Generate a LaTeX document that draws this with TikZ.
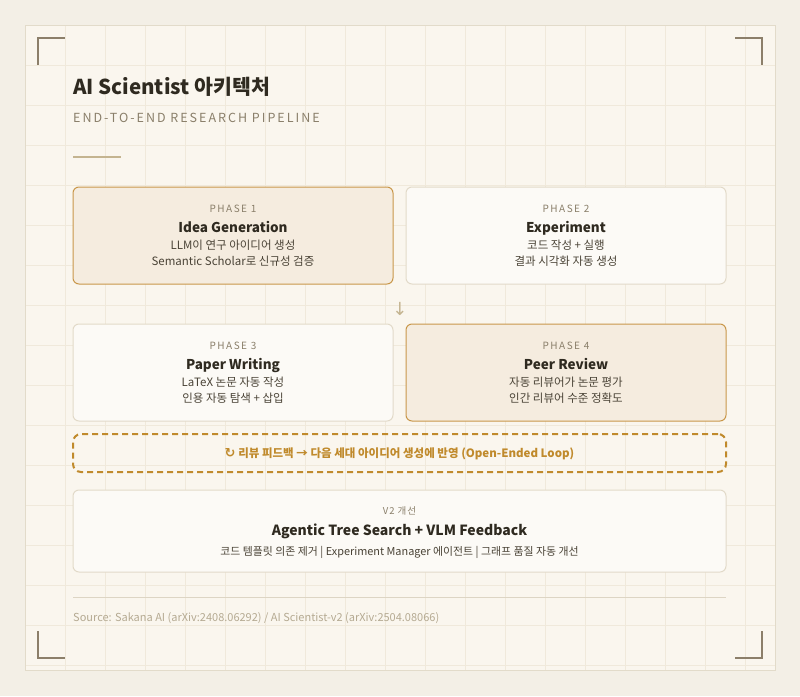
\documentclass[tikz,border=0pt]{standalone}
\usepackage{fontspec}
\setmainfont{Noto Sans CJK KR}
\newfontfamily\symfont{DejaVu Sans}
\usepackage{tikz}
\usetikzlibrary{positioning}

\definecolor{pagebg}{HTML}{F3EFE6}
\definecolor{panelbg}{HTML}{FAF6EE}
\definecolor{panelline}{HTML}{E2DBCA}
\definecolor{gridline}{HTML}{F0E9DB}
\definecolor{bracket}{HTML}{8C7F6A}
\definecolor{ink}{HTML}{2F2A20}
\definecolor{muted}{HTML}{8A7F6A}
\definecolor{rule}{HTML}{C4B490}
\definecolor{gold}{HTML}{C9974A}
\definecolor{hifill}{HTML}{F5ECDF}
\definecolor{lofill}{HTML}{FCFAF6}
\definecolor{loline}{HTML}{E2DAC9}
\definecolor{desc}{HTML}{4A4336}
\definecolor{loop}{HTML}{C08A2C}
\definecolor{footline}{HTML}{DDD5C4}
\definecolor{source}{HTML}{B5AA92}

\tikzset{
  hibox/.style={draw=gold, fill=hifill, rounded corners=6pt, line width=1pt,
    minimum width=320pt, minimum height=97pt, inner sep=0pt},
  lobox/.style={draw=loline, fill=lofill, rounded corners=6pt, line width=1pt,
    minimum width=320pt, minimum height=97pt, inner sep=0pt},
  caption/.style={anchor=base, text=muted, inner sep=0pt,
    font=\fontsize{10}{11}\selectfont\addfontfeatures{LetterSpace=15}},
  heading/.style={anchor=base, text=ink, inner sep=0pt,
    font=\fontsize{13.5}{16}\selectfont\bfseries},
  body/.style={anchor=base, text=desc, inner sep=0pt,
    font=\fontsize{11.5}{13}\selectfont},
  corner/.style={draw=bracket, line width=2pt}
}

\begin{document}
\begin{tikzpicture}[x=1pt,y=-1pt]
  \useasboundingbox (0,0) rectangle (800,696);
  \fill[pagebg] (0,0) rectangle (800,696);
  \fill[panelbg] (25,25) rectangle (775,670);
  \begin{scope}
    \clip (25,25) rectangle (775,670);
    \foreach \gx in {65,105,...,765} \draw[gridline] (\gx,25) -- (\gx,670);
    \foreach \gy in {65,105,...,665} \draw[gridline] (25,\gy) -- (775,\gy);
  \end{scope}
  \draw[panelline] (25,25) rectangle (775,670);

  % corner brackets
  \draw[corner] (38,65) -- (38,38) -- (65,38);
  \draw[corner] (735,38) -- (762,38) -- (762,65);
  \draw[corner] (38,631) -- (38,658) -- (65,658);
  \draw[corner] (735,658) -- (762,658) -- (762,631);

  % header
  \node[anchor=base west, text=ink, inner sep=0pt,
    font=\fontsize{20.5}{24}\selectfont\bfseries] (title) at (73,94) {AI Scientist 아키텍처};
  \node[anchor=base west, text=muted, inner sep=0pt,
    font=\fontsize{12.5}{14}\selectfont\addfontfeatures{LetterSpace=16}] (subtitle) at (73,122) {END-TO-END RESEARCH PIPELINE};
  \draw[rule, line width=2pt] (73,157) -- (121,157);

  % phases
  \node[hibox] (p1) at (233,235.5) {};
  \node[caption] (p1cap) at (233,212) {PHASE 1};
  \node[heading] (p1head) at (233,232) {Idea Generation};
  \node[body] (p1a) at (233,249.5) {LLM이 연구 아이디어 생성};
  \node[body] (p1b) at (233,265.5) {Semantic Scholar로 신규성 검증};

  \node[lobox] (p2) at (566,235.5) {};
  \node[caption] (p2cap) at (566,212) {PHASE 2};
  \node[heading] (p2head) at (566,232) {Experiment};
  \node[body] (p2a) at (566,249.5) {코드 작성 + 실행};
  \node[body] (p2b) at (566,265.5) {결과 시각화 자동 생성};

  \node[text=rule, inner sep=0pt, font=\symfont\fontsize{18}{19}\selectfont] (down) at (400,309) {↓};

  \node[lobox] (p3) at (233,372.5) {};
  \node[caption] (p3cap) at (233,349) {PHASE 3};
  \node[heading] (p3head) at (233,369) {Paper Writing};
  \node[body] (p3a) at (233,386.5) {LaTeX 논문 자동 작성};
  \node[body] (p3b) at (233,402.5) {인용 자동 탐색 + 삽입};

  \node[hibox] (p4) at (566,372.5) {};
  \node[caption] (p4cap) at (566,349) {PHASE 4};
  \node[heading] (p4head) at (566,369) {Peer Review};
  \node[body] (p4a) at (566,386.5) {자동 리뷰어가 논문 평가};
  \node[body] (p4b) at (566,402.5) {인간 리뷰어 수준 정확도};

  % feedback loop
  \node[draw=loop, line width=2pt, dash pattern=on 6pt off 4pt, rounded corners=8pt,
    minimum width=653pt, minimum height=38pt, inner sep=0pt] (loopbox) at (399.5,453) {};
  \node[anchor=base, text=loop, inner sep=0pt, font=\fontsize{11.5}{13}\selectfont\bfseries] (looptxt) at (399.5,457)
    {{\symfont\bfseries\fontsize{13}{13}\selectfont ↻} 리뷰 피드백 → 다음 세대 아이디어 생성에 반영 (Open-Ended Loop)};

  % v2
  \node[lobox, minimum width=653pt, minimum height=82pt] (v2) at (399.5,531) {};
  \node[caption, font=\fontsize{9.5}{11}\selectfont\addfontfeatures{LetterSpace=10}] (v2cap) at (399.5,514) {V2 개선};
  \node[heading, font=\fontsize{14}{16}\selectfont\bfseries] (v2head) at (399.5,535.5) {Agentic Tree Search + VLM Feedback};
  \node[body, font=\fontsize{10.9}{12}\selectfont] (v2a) at (399.5,555)
    {코드 템플릿 의존 제거 | Experiment Manager 에이전트 | 그래프 품질 자동 개선};

  % footer
  \draw[footline] (73,597) -- (726,597);
  \node[anchor=base west, text=source, inner sep=0pt, font=\fontsize{11}{12}\selectfont] (src) at (73,621)
    {Source: Sakana AI (arXiv:2408.06292) / AI Scientist-v2 (arXiv:2504.08066)};
\end{tikzpicture}
\end{document}
